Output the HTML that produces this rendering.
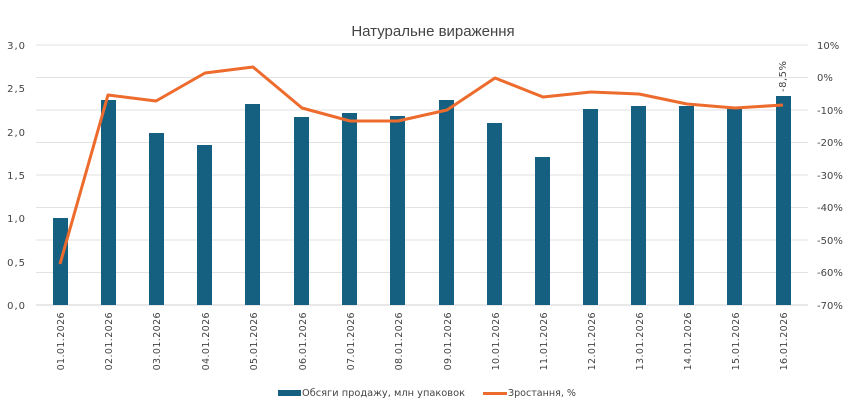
<!DOCTYPE html>
<html><head><meta charset="utf-8"><style>
body{margin:0;background:#fff}
svg text{font-family:"DejaVu Sans","Liberation Sans",sans-serif;fill:#444}
</style></head><body>
<svg width="850" height="410" xmlns="http://www.w3.org/2000/svg">
<text x="433" y="36" text-anchor="middle" font-size="15" style="font-family:'Liberation Sans',sans-serif" fill="#444">Натуральне  вираження</text>
<g stroke="#e2e2e2" stroke-width="1">
<line x1="36" x2="808" y1="45" y2="45"/><line x1="36" x2="808" y1="77.5" y2="77.5"/><line x1="36" x2="808" y1="110" y2="110"/><line x1="36" x2="808" y1="142.5" y2="142.5"/><line x1="36" x2="808" y1="175" y2="175"/><line x1="36" x2="808" y1="207.5" y2="207.5"/><line x1="36" x2="808" y1="240" y2="240"/><line x1="36" x2="808" y1="272.5" y2="272.5"/><line x1="36" x2="808" y1="305" y2="305" stroke="#d0d0d0"/>
</g>
<g font-size="10" text-anchor="end" letter-spacing="1">
<text x="26" y="49">3,0</text><text x="26" y="92">2,5</text><text x="26" y="136">2,0</text><text x="26" y="179">1,5</text><text x="26" y="222">1,0</text><text x="26" y="266">0,5</text><text x="26" y="309">0,0</text>
</g>
<g font-size="10" text-anchor="start">
<text x="817" y="49">10%</text><text x="817" y="81">0%</text><text x="817" y="114">-10%</text><text x="817" y="146">-20%</text><text x="817" y="179">-30%</text><text x="817" y="211">-40%</text><text x="817" y="244">-50%</text><text x="817" y="276">-60%</text><text x="817" y="309">-70%</text>
</g>
<g fill="#155f80">
<rect x="53" y="218" width="15" height="87"/>
<rect x="101" y="100" width="15" height="205"/>
<rect x="149" y="133" width="15" height="172"/>
<rect x="197" y="145" width="15" height="160"/>
<rect x="245" y="104" width="15" height="201"/>
<rect x="294" y="117" width="15" height="188"/>
<rect x="342" y="113" width="15" height="192"/>
<rect x="390" y="116" width="15" height="189"/>
<rect x="439" y="100" width="15" height="205"/>
<rect x="487" y="123" width="15" height="182"/>
<rect x="535" y="157" width="15" height="148"/>
<rect x="583" y="109" width="15" height="196"/>
<rect x="631" y="106" width="15" height="199"/>
<rect x="679" y="106" width="15" height="199"/>
<rect x="727" y="108" width="15" height="197"/>
<rect x="776" y="96" width="15" height="209"/>
</g>
<polyline fill="none" stroke="#ed6b2c" stroke-width="3" stroke-linejoin="round" points="60,264 108,95 156,101 205,73 253,67 302,108 350,121 398,121 447,110 495,78 543,97 591,92 639,94 687,104 735,108 783,105"/>
<text transform="translate(786,92) rotate(-90)" font-size="10" letter-spacing="0.5">-8,5%</text>
<g font-size="9.5" text-anchor="end" letter-spacing="0.4">
<text transform="translate(64,312) rotate(-90)">01.01.2026</text>
<text transform="translate(112,312) rotate(-90)">02.01.2026</text>
<text transform="translate(160,312) rotate(-90)">03.01.2026</text>
<text transform="translate(209,312) rotate(-90)">04.01.2026</text>
<text transform="translate(257,312) rotate(-90)">05.01.2026</text>
<text transform="translate(306,312) rotate(-90)">06.01.2026</text>
<text transform="translate(354,312) rotate(-90)">07.01.2026</text>
<text transform="translate(402,312) rotate(-90)">08.01.2026</text>
<text transform="translate(451,312) rotate(-90)">09.01.2026</text>
<text transform="translate(499,312) rotate(-90)">10.01.2026</text>
<text transform="translate(547,312) rotate(-90)">11.01.2026</text>
<text transform="translate(595,312) rotate(-90)">12.01.2026</text>
<text transform="translate(643,312) rotate(-90)">13.01.2026</text>
<text transform="translate(691,312) rotate(-90)">14.01.2026</text>
<text transform="translate(739,312) rotate(-90)">15.01.2026</text>
<text transform="translate(787,312) rotate(-90)">16.01.2026</text>
</g>
<rect x="278" y="390" width="23" height="6" fill="#155f80"/>
<text x="302" y="396" font-size="9.5" textLength="163" lengthAdjust="spacingAndGlyphs">Обсяги  продажу,  млн  упаковок</text>
<rect x="483" y="392" width="24" height="3" fill="#ed6b2c"/>
<text x="508" y="396" font-size="9.5" textLength="68" lengthAdjust="spacingAndGlyphs">Зростання,  %</text>
</svg>
</body></html>
